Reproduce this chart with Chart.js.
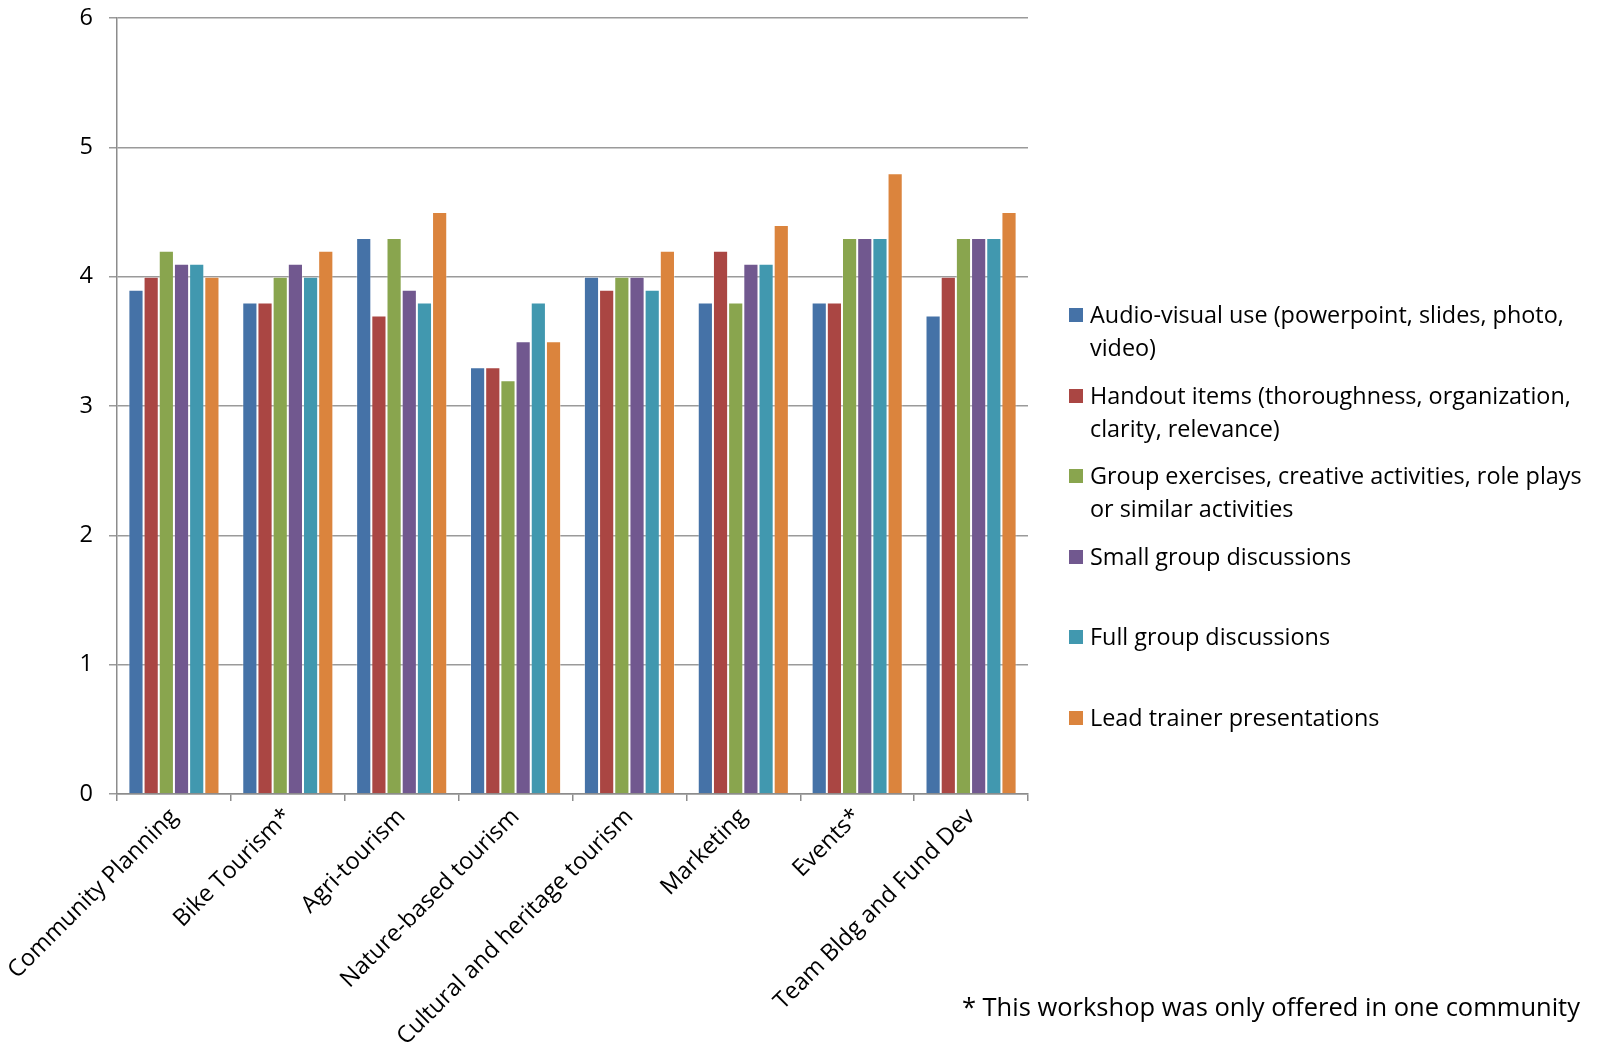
<!DOCTYPE html>
<html>
<head>
<meta charset="utf-8">
<script src="https://cdn.jsdelivr.net/npm/chart.js@4.4.1/dist/chart.umd.min.js"></script>
<style>
    body { margin: 0; background: #fff; overflow: hidden; }
    #wrap { position: relative; width: 1600px; height: 1053px; overflow: hidden; }
    #area { position: absolute; left: 0; top: -12px; width: 1600px; height: 1061px; }
    #legenda { position: absolute; left: 1069px; top: 0; width: 531px; }
    .item { position: absolute; left: 0; width: 531px; display: flex; font-family: "Open Sans", sans-serif; font-size: 23.4px; line-height: 33px; color: #000; }
    .quadrado { flex: none; width: 14px; height: 14px; margin-top: 10px; margin-right: 7px; }
    .texto { width: 505px; }
    #nota { position: absolute; right: 20px; top: 989px; font-family: "Open Sans", sans-serif; font-size: 25.5px; color: #000; }
</style>
</head>
<body>
<div id="wrap">
    <div id="area"><canvas id="graficoOficinas"></canvas></div>
    <div id="legenda"></div>
    <div id="nota">* This workshop was only offered in one community</div>
</div>
<script>
const oficinas = [
    "Community Planning", "Bike Tourism*", "Agri-tourism", "Nature-based tourism",
    "Cultural and heritage tourism", "Marketing", "Events*", "Team Bldg and Fund Dev"
];

const series = [
    "Audio-visual use (powerpoint, slides, photo, video)",
    "Handout items (thoroughness, organization, clarity, relevance)",
    "Group exercises, creative activities, role plays or similar activities",
    "Small group discussions",
    "Full group discussions",
    "Lead trainer presentations"
];

const audioVisual   = [3.9, 3.8, 4.3, 3.3, 4.0, 3.8, 3.8, 3.7];
const handout       = [4.0, 3.8, 3.7, 3.3, 3.9, 4.2, 3.8, 4.0];
const grupoExerc    = [4.2, 4.0, 4.3, 3.2, 4.0, 3.8, 4.3, 4.3];
const grupoPequeno  = [4.1, 4.1, 3.9, 3.5, 4.0, 4.1, 4.3, 4.3];
const grupoCompleto = [4.1, 4.0, 3.8, 3.8, 3.9, 4.1, 4.3, 4.3];
const instrutor     = [4.0, 4.2, 4.5, 3.5, 4.2, 4.4, 4.8, 4.5];

const valores = [audioVisual, handout, grupoExerc, grupoPequeno, grupoCompleto, instrutor];
const cores = ["#4572A7", "#AA4643", "#89A54E", "#71588F", "#4198AF", "#DB843D"];

const fonte = { family: "'Open Sans', sans-serif", size: 23.5 };

// legenda em HTML para poder quebrar as linhas
const legenda = document.getElementById("legenda");
series.forEach(function(nome, i) {
    let item = document.createElement("div");
    item.className = "item";
    item.style.top = (298 + i * 80.6) + "px";
    let q = document.createElement("div");
    q.className = "quadrado";
    q.style.background = cores[i];
    let t = document.createElement("div");
    t.className = "texto";
    t.textContent = nome;
    item.appendChild(q);
    item.appendChild(t);
    legenda.appendChild(item);
});

new Chart(document.getElementById("graficoOficinas"), {
    type: "bar",
    data: {
        labels: oficinas,
        datasets: series.map(function(nome, i) {
            return {
                label: nome,
                data: valores[i],
                backgroundColor: cores[i],
                borderColor: "rgba(255,255,255,0.35)",
                borderWidth: 1
            };
        })
    },
    options: {
        responsive: true,
        maintainAspectRatio: false,
        animation: false,
        datasets: {
            bar: { categoryPercentage: 0.8, barPercentage: 1.0 }
        },
        layout: { padding: { top: 0, right: 572, left: 0, bottom: -4 } },
        plugins: {
            legend: { display: false },
            tooltip: { enabled: false }
        },
        scales: {
            x: {
                offset: true,
                grid: {
                    offset: true,
                    drawOnChartArea: false,
                    drawTicks: true,
                    tickLength: 7,
                    color: "#8c8c8c",
                    lineWidth: 1.5
                },
                border: { color: "#8c8c8c", width: 1.5 },
                ticks: {
                    color: "#000",
                    font: fonte,
                    minRotation: 45,
                    maxRotation: 45,
                    padding: 2
                }
            },
            y: {
                min: 0,
                max: 6,
                afterFit: function(scale) { scale.width = 117; },
                grid: {
                    color: "#9a9a9a",
                    lineWidth: 1.5,
                    tickLength: 8
                },
                border: { color: "#8c8c8c", width: 1.5 },
                ticks: {
                    stepSize: 1,
                    color: "#000",
                    font: fonte,
                    padding: 16
                }
            }
        }
    }
});
</script>
</body>
</html>
